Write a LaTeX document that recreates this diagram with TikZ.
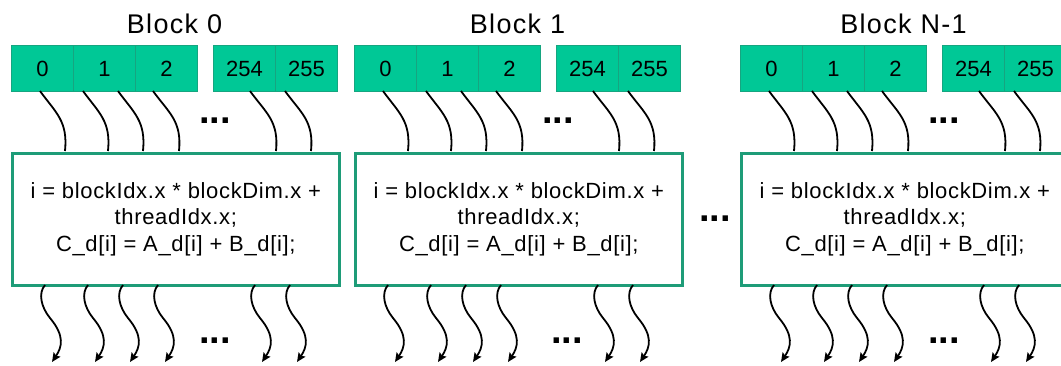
\documentclass[tikz,border=0pt]{standalone}
\usepackage{fontspec}
\setmainfont{Liberation Sans}
\newfontfamily\titlefont[LetterSpace=5]{Liberation Sans}
\newfontfamily\codefont[LetterSpace=3]{Liberation Sans}
\usetikzlibrary{arrows.meta,calc}
\definecolor{cellfill}{HTML}{00C896}
\definecolor{celledge}{HTML}{16A580}
\definecolor{boxedge}{HTML}{1E9C78}

\tikzset{
  cell/.style={draw=celledge, line width=1pt, fill=cellfill, minimum width=62pt,
    minimum height=46pt, inner sep=0pt, anchor=north west,
    font=\fontsize{22}{22}\selectfont},
  kernel/.style={draw=boxedge, line width=2.6pt, fill=white, minimum width=327pt,
    minimum height=132pt, inner sep=0pt, anchor=north west, align=center,
    font=\codefont\fontsize{22}{26.5}\selectfont},
  blocktitle/.style={anchor=base, inner sep=0pt, font=\titlefont\fontsize{27}{27}\selectfont},
  ellipsis/.style={anchor=base, inner sep=0pt, font=\fontsize{38}{38}\bfseries\selectfont},
  thread/.style={line width=1.8pt, black},
  warp/.style={thread, -{Stealth[length=9pt,width=8pt,inset=1.5pt]}}
}

% One thread block: #1 = left x, #2 = name prefix, #3 = title, #4 = x of lower dots
\newcommand\threadblock[4]{%
  \begin{scope}[shift={(#1,0)}]
    \node[blocktitle] (#2title) at (163.5,33) {#3};
    \foreach \i/\dx/\lab in {0/0/0,1/62/1,2/124/2,3/202/254,4/264/255}
      \node[cell] (#2c\i) at (\dx,45) {\lab};
    \node[kernel] (#2k) at (0,152)
      {i = blockIdx.x * blockDim.x +\\ threadIdx.x;\\ C\_d[i] = A\_d[i] + B\_d[i];};
    % incoming threads
    \foreach \i/\s/\e in {0/29/54,1/72/97,2/107/132,3/142/168,4/239/265,5/274/300}{
      \coordinate (#2a\i) at (\s,91);
      \coordinate (#2b\i) at (\e,151);
      \draw[thread] (#2a\i) .. controls +(16,22) and +(3,-30) .. (#2b\i);
    }
    % outgoing threads
    \foreach \i/\s in {0/34,1/77,2/112,3/147,4/244,5/279}{
      \coordinate (#2p\i) at (\s,285);
      \coordinate (#2m\i) at ({\s+5},318);
      \coordinate (#2q\i) at ({\s+7},362);
      \draw[warp] (#2p\i) .. controls +(-7,8) and +(-9,-11) .. (#2m\i)
                          .. controls +(15,18) and +(10,-15) .. (#2q\i);
    }
    \node[ellipsis] (#2dtop) at (204,123) {...};
    \node[ellipsis] (#2dbot) at (#4,343) {...};
  \end{scope}%
}

\begin{document}
\begin{tikzpicture}[x=1pt,y=-1pt]
  \useasboundingbox (0,0) rectangle (1061,365);
  \fill[white] (0,0) rectangle (1061,365);
  \threadblock{11}{b0}{Block 0}{204}
  \threadblock{354}{b1}{Block 1}{213}
  \threadblock{740}{bn}{Block N-1}{204}
  \node[ellipsis] (between) at (715,221) {...};
\end{tikzpicture}
\end{document}
